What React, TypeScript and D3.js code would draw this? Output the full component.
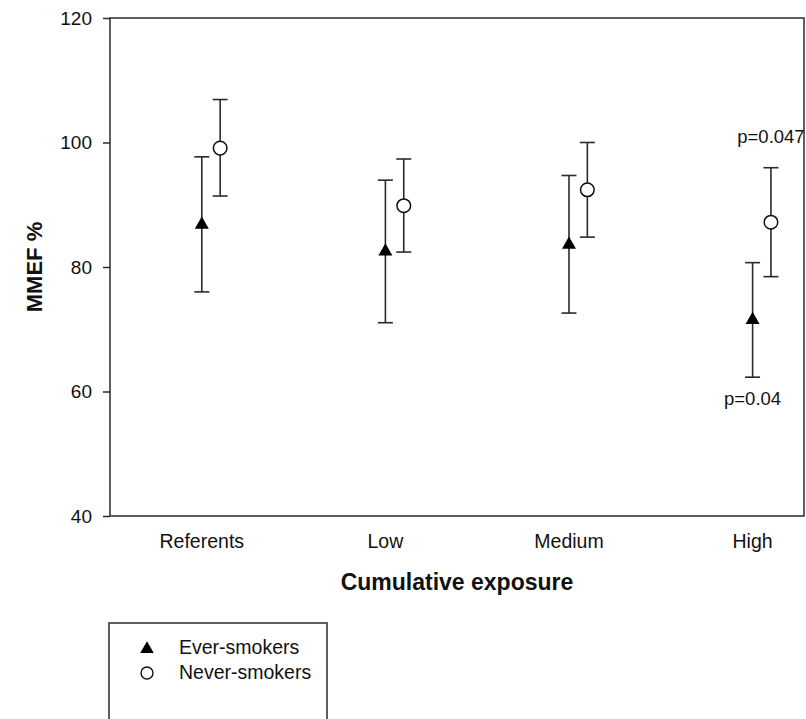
import React, { useEffect } from "react";
import * as d3 from "d3";

const categories = ["Referents", "Low", "Medium", "High"];

// MMEF % means with lower / upper ends of the error bars
const everMean = [86.8, 82.5, 83.6, 71.5];
const everLow = [76.0, 71.05, 72.6, 62.3];
const everHigh = [97.7, 93.95, 94.7, 80.7];

const neverMean = [99.1, 89.85, 92.4, 87.2];
const neverLow = [91.4, 82.4, 84.8, 78.45];
const neverHigh = [106.9, 97.35, 100.0, 95.95];

const yTicks = [40, 60, 80, 100, 120];

const pLabels = [
  { category: "High", series: "never", text: "p=0.047", where: "above" },
  { category: "High", series: "ever", text: "p=0.04", where: "below" },
];

export default function App() {
  useEffect(() => {
    document.body.style.margin = "0";
    draw();
  }, []);

  let draw = () => {
    d3.select("#chart").select("svg").remove();

    let W = 806;
    let H = 719;
    let margin = { left: 110, top: 18, right: 2, bottom: 203 };
    let width = W - margin.left - margin.right;
    let height = H - margin.top - margin.bottom;
    let font = "'Liberation Sans', Arial, sans-serif";
    let ink = "#2a2a2a";

    let root = d3
      .select("#chart")
      .append("svg")
      .attr("width", W)
      .attr("height", H)
      .style("display", "block")
      .style("background", "#fff")
      .style("font-family", font);

    let svg = root
      .append("g")
      .attr("transform", `translate(${margin.left}, ${margin.top})`);

    let x = d3.scaleLinear().domain([0.5, 4.28]).range([0, width]);
    let y = d3.scaleLinear().domain([40, 120]).range([height, 0]);
    let offset = 0.1;

    // frame
    svg
      .append("rect")
      .attr("width", width)
      .attr("height", height)
      .attr("fill", "none")
      .attr("stroke", ink)
      .attr("stroke-width", 1.5);

    // y axis
    let yAxis = svg
      .append("g")
      .call(
        d3.axisLeft(y).tickValues(yTicks).tickSize(7).tickSizeOuter(0).tickPadding(11)
      );
    yAxis.select(".domain").remove();
    yAxis.selectAll("line").attr("stroke", ink).attr("stroke-width", 1.5);
    yAxis
      .selectAll("text")
      .attr("fill", "#111")
      .style("font-size", "19px")
      .style("font-family", font);

    // category labels
    svg
      .selectAll("cat")
      .data(categories)
      .enter()
      .append("text")
      .attr("x", (d, i) => x(i + 1))
      .attr("y", height + 32)
      .attr("text-anchor", "middle")
      .attr("fill", "#111")
      .style("font-size", "19.5px")
      .text((d) => d);

    // axis titles
    svg
      .append("text")
      .attr("x", width / 2)
      .attr("y", height + 74)
      .attr("text-anchor", "middle")
      .attr("fill", "#111")
      .style("font-size", "23px")
      .style("font-weight", "bold")
      .text("Cumulative exposure");

    svg
      .append("text")
      .attr("transform", `translate(${42 - margin.left}, ${height / 2}) rotate(-90)`)
      .attr("text-anchor", "middle")
      .attr("fill", "#111")
      .style("font-size", "22px")
      .style("font-weight", "bold")
      .text("MMEF %");

    let series = [
      { key: "ever", mean: everMean, lo: everLow, hi: everHigh, dx: 0 },
      { key: "never", mean: neverMean, lo: neverLow, hi: neverHigh, dx: offset },
    ];

    let capW = 7.5;

    series.forEach((s) => {
      let g = svg.append("g");
      let rows = categories.map((c, i) => ({
        cx: x(i + 1 + s.dx),
        mean: s.mean[i],
        lo: s.lo[i],
        hi: s.hi[i],
      }));

      g.selectAll("bar")
        .data(rows)
        .enter()
        .append("line")
        .attr("x1", (d) => d.cx)
        .attr("x2", (d) => d.cx)
        .attr("y1", (d) => y(d.lo))
        .attr("y2", (d) => y(d.hi))
        .attr("stroke", ink)
        .attr("stroke-width", 1.6);

      ["lo", "hi"].forEach((k) => {
        g.selectAll("cap" + k)
          .data(rows)
          .enter()
          .append("line")
          .attr("x1", (d) => d.cx - capW)
          .attr("x2", (d) => d.cx + capW)
          .attr("y1", (d) => y(d[k]))
          .attr("y2", (d) => y(d[k]))
          .attr("stroke", ink)
          .attr("stroke-width", 1.6);
      });

      if (s.key === "ever") {
        g.selectAll("tri")
          .data(rows)
          .enter()
          .append("path")
          .attr("d", d3.symbol(d3.symbolTriangle, 85)())
          .attr("transform", (d) => `translate(${d.cx}, ${y(d.mean)})`)
          .attr("fill", "#000");
      } else {
        g.selectAll("circ")
          .data(rows)
          .enter()
          .append("circle")
          .attr("cx", (d) => d.cx)
          .attr("cy", (d) => y(d.mean))
          .attr("r", 6.8)
          .attr("fill", "#fff")
          .attr("stroke", "#111")
          .attr("stroke-width", 1.5);
      }
    });

    // p values
    svg
      .selectAll("plab")
      .data(pLabels)
      .enter()
      .append("text")
      .attr("x", (d) => x(categories.indexOf(d.category) + 1 + (d.series === "never" ? offset : 0)))
      .attr("y", (d) => {
        let i = categories.indexOf(d.category);
        return d.where === "above"
          ? y((d.series === "never" ? neverHigh : everHigh)[i]) - 25
          : y((d.series === "never" ? neverLow : everLow)[i]) + 28;
      })
      .attr("text-anchor", "middle")
      .attr("fill", "#111")
      .style("font-size", "18.5px")
      .text((d) => d.text);

    // legend
    let legend = root.append("g").attr("transform", "translate(109, 623)");
    legend
      .append("rect")
      .attr("width", 218)
      .attr("height", 130)
      .attr("fill", "none")
      .attr("stroke", ink)
      .attr("stroke-width", 1.5);

    legend
      .append("path")
      .attr("d", d3.symbol(d3.symbolTriangle, 80)())
      .attr("transform", "translate(38, 26)")
      .attr("fill", "#000");
    legend
      .append("circle")
      .attr("cx", 38)
      .attr("cy", 50)
      .attr("r", 6)
      .attr("fill", "#fff")
      .attr("stroke", "#111")
      .attr("stroke-width", 1.4);

    legend
      .selectAll("ltext")
      .data(["Ever-smokers", "Never-smokers"])
      .enter()
      .append("text")
      .attr("x", 70)
      .attr("y", (d, i) => 31 + i * 25)
      .attr("fill", "#111")
      .style("font-size", "19.5px")
      .text((d) => d);
  };

  return <div id="chart"></div>;
}
